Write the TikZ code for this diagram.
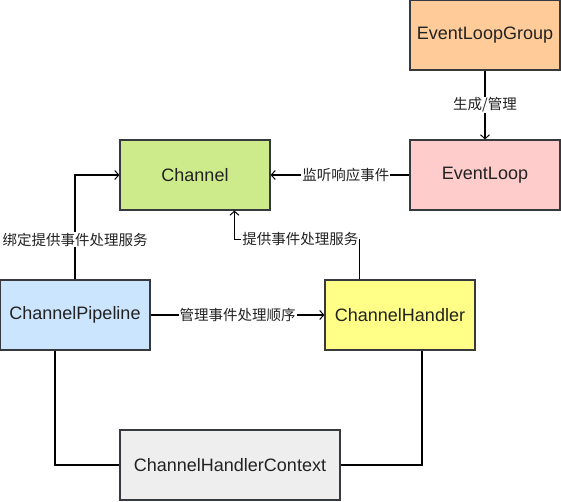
\documentclass[tikz,border=0pt]{standalone}
\usepackage{fontspec}
\setmainfont{Liberation Sans}
\newfontfamily\cjk{Noto Sans CJK SC}
\usetikzlibrary{arrows.meta}
\definecolor{strokec}{HTML}{36393D}
\definecolor{textc}{HTML}{222222}
\definecolor{cOrange}{HTML}{FFCC99}
\definecolor{cPink}{HTML}{FFCCCC}
\definecolor{cGreen}{HTML}{CDEB8B}
\definecolor{cBlue}{HTML}{CCE5FF}
\definecolor{cYellow}{HTML}{FFFF88}
\definecolor{cGray}{HTML}{EEEEEE}
\begin{document}
\begin{tikzpicture}[x=1pt,y=-1pt,
  box/.style={draw=strokec, line width=1.2pt, minimum width=150pt, minimum height=70pt,
    inner sep=0pt, text=textc, font=\fontsize{18}{20}\selectfont},
  conn/.style={line width=1.2pt, draw=black},
  arr/.style={conn, -{Straight Barb[length=4pt,width=9pt,line width=1pt]}},
  lbl/.style={fill=white, inner sep=1pt, text=textc, font=\cjk\fontsize{14.5}{16}\selectfont}]
\useasboundingbox (0,0) rectangle (561,501);
\node[box, fill=cOrange] (elg) at (485,35) {EventLoopGroup};
\node[box, fill=cPink] (el) at (485,175) {EventLoop};
\node[box, fill=cGreen] (ch) at (195,175) {Channel};
\node[box, fill=cBlue] (pipe) at (75,315) {ChannelPipeline};
\node[box, fill=cYellow] (hd) at (400,315) {ChannelHandler};
\node[box, fill=cGray, minimum width=220pt] (ctx) at (230,465) {ChannelHandlerContext};

\draw[arr] (elg) -- node[lbl] (l1) {生成/管理} (el);
\draw[arr] (el) -- node[lbl, pos=0.457] (l2) {监听响应事件} (ch);
\draw[arr] (pipe.north) |- node[lbl, pos=0.19] (l3) {绑定提供事件处理服务} (ch.west);
\draw[arr] ([xshift=35pt]hd.north west) -- ++(0,-40) -| node[lbl, pos=0.236] (l4) {提供事件处理服务} ([xshift=115pt]ch.south west);
\draw[arr] (pipe) -- node[lbl] (l5) {管理事件处理顺序} (hd);
\draw[conn] ([xshift=-20pt]pipe.south) |- (ctx.west);
\draw[conn] ([xshift=22pt]hd.south) |- (ctx.east);
\end{tikzpicture}
\end{document}
